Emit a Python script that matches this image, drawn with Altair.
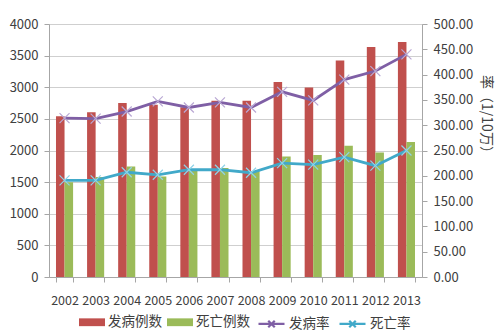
import altair as alt
import pandas as pd

years = ["2002", "2003", "2004", "2005", "2006", "2007", "2008", "2009", "2010", "2011", "2012", "2013"]
cases = [2540, 2603, 2751, 2724, 2682, 2788, 2788, 3084, 2998, 3424, 3638, 3717]
deaths = [1500, 1580, 1748, 1590, 1690, 1723, 1675, 1907, 1929, 2076, 1970, 2134]
inc_rate = [314, 313, 327, 347, 335, 345, 335, 366, 349, 390, 407, 440]
mort_rate = [191, 191, 207, 202, 212, 212, 206, 225, 222, 237, 220, 250]

bar_names = ["发病例数", "死亡例数"]
line_names = ["发病率", "死亡率"]

bar_df = pd.DataFrame(
    {"year": years * 2, "series": [bar_names[0]] * 12 + [bar_names[1]] * 12, "value": cases + deaths}
)
line_df = pd.DataFrame(
    {"year": years * 2, "series": [line_names[0]] * 12 + [line_names[1]] * 12, "rate": inc_rate + mort_rate}
)

FONT = "Noto Sans CJK SC"
TXT = "#404040"
GRID = "#CFCFCF"
DOM = "#A6A6A6"

xscale = alt.Scale(domain=years, paddingInner=0.45, paddingOuter=0.225)
xaxis = alt.Axis(
    title=None, labelAngle=0, tickBand="extent", labelFontSize=12.5, labelFont=FONT,
    labelColor=TXT, domainColor=DOM, tickColor=DOM, tickSize=5, labelPadding=12, labelOverlap=False,
)
rate_axis = alt.Axis(
    title="率（1/10万）", orient="right", values=list(range(0, 501, 50)), format=".2f", grid=False,
    domainColor=DOM, tickColor=DOM, tickSize=5, labelFontSize=13, labelFont=FONT,
    labelColor=TXT, labelPadding=6, labelOverlap=False, titleFont=FONT, titleFontSize=14,
    titleFontWeight="normal", titleColor=TXT, titleAngle=90, titleX=63, titleY=93,
    titleAlign="center", titleBaseline="middle",
)
rate_scale = alt.Scale(domain=[0, 500], nice=False)

bars = alt.Chart(bar_df).mark_bar().encode(
    x=alt.X("year:N", scale=xscale, axis=xaxis),
    xOffset=alt.XOffset("series:N", sort=bar_names, scale=alt.Scale(domain=bar_names, paddingInner=0, paddingOuter=0)),
    y=alt.Y(
        "value:Q",
        scale=alt.Scale(domain=[0, 4000], nice=False),
        axis=alt.Axis(
            title=None, orient="left", values=list(range(0, 4001, 500)), format="d", grid=True, gridColor=GRID,
            domainColor=DOM, tickColor=DOM, tickSize=5, labelFontSize=13, labelFont=FONT,
            labelColor=TXT, labelPadding=6, labelOverlap=False,
        ),
    ),
    fill=alt.Fill(
        "series:N",
        scale=alt.Scale(domain=bar_names, range=["#C0504D", "#9BBB59"]),
        legend=alt.Legend(
            title=None, orient="none", legendX=30, legendY=285, direction="horizontal",
            symbolType="M-1,-0.3H1V0.3H-1Z", symbolSize=676, symbolStrokeWidth=0,
            labelFont=FONT, labelFontSize=13.5, labelColor=TXT, labelOffset=3, columnPadding=5,
        ),
    ),
)

lines = alt.Chart(line_df).mark_line(strokeWidth=2.8).encode(
    x=alt.X("year:N", scale=xscale, axis=xaxis),
    y=alt.Y("rate:Q", scale=rate_scale, axis=rate_axis),
    stroke=alt.Stroke(
        "series:N",
        scale=alt.Scale(domain=line_names, range=["#7F5FA5", "#41A9C9"]),
        legend=alt.Legend(
            title=None, orient="none", legendX=208, legendY=285, direction="horizontal",
            symbolType="M-1,0H1M-0.25,-0.25L0.25,0.25M-0.25,0.25L0.25,-0.25", symbolSize=676,
            symbolStrokeWidth=2.2, labelFont=FONT, labelFontSize=13.5, labelColor=TXT, labelOffset=3,
            columnPadding=5,
        ),
    ),
)

points = alt.Chart(line_df).mark_point(
    shape="M-1,-1L1,1M-1,1L1,-1", filled=False, size=100, strokeWidth=1.2, opacity=1
).encode(
    x=alt.X("year:N", scale=xscale, axis=xaxis),
    y=alt.Y("rate:Q", scale=rate_scale, axis=rate_axis),
    color=alt.Color("series:N", scale=alt.Scale(domain=line_names, range=["#B9A8D4", "#8FD3E8"]), legend=None),
)

chart = (
    alt.layer(bars, alt.layer(lines, points))
    .resolve_scale(y="independent", color="independent")
    .properties(
        width=373, height=253, autosize=alt.AutoSizeParams(type="none"),
        padding={"left": 49, "top": 24, "right": 78, "bottom": 55},
    )
    .configure_view(stroke=None)
    .configure(background="white")
)

chart.save("out.html", embed_options={"renderer": "svg", "actions": False})
